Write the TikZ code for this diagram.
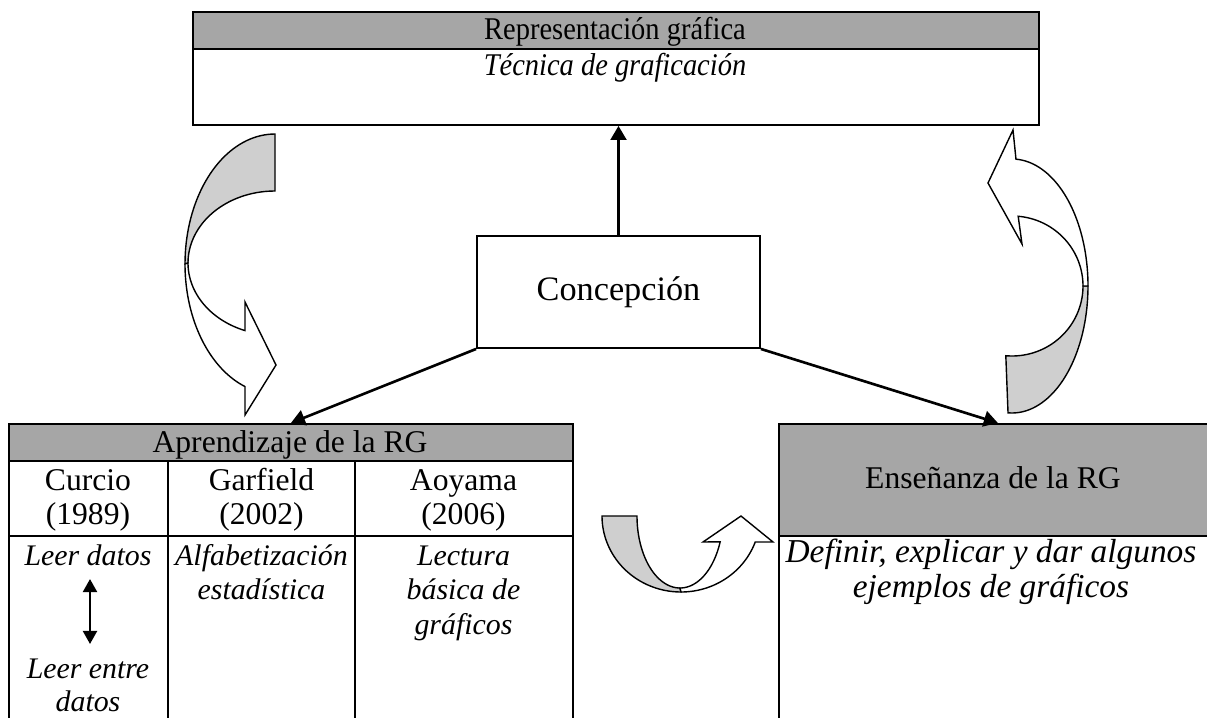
\documentclass[tikz,border=0pt]{standalone}
\usepackage{fontspec}
\usepackage{graphicx}
\setmainfont{Liberation Serif}
\usetikzlibrary{arrows.meta}

\tikzset{
  caja/.style={draw, line width=1.1pt, inner sep=0pt},
  banda/.style={fill=black!35},
  conector/.style={line width=1.5pt, -{Triangle[length=8pt,width=9pt]}},
  flecha/.style={draw, line width=0.8pt, line join=miter},
  texto/.style={inner sep=0pt, anchor=base, font=\fontsize{18}{21}\selectfont},
  cursiva/.style={texto, font=\fontsize{17}{20}\selectfont\itshape},
}
\newcommand{\estrecho}[1]{\scalebox{0.9}[1]{#1}}

\begin{document}
\begin{tikzpicture}[x=0.02cm, y=-0.02cm]
\path[use as bounding box, clip] (0,0) rectangle (1207,717);

% Representacion grafica
\fill[banda] (192,11) rectangle (1038,49);
\node[caja, minimum width=16.92cm, minimum height=2.26cm, anchor=north west] (repr) at (192,11) {};
\draw[line width=1.1pt] (192,49) -- (1038,49);
\node[texto] (reprA) at (615,39) {\estrecho{Representación gráfica}};
\node[texto, font=\fontsize{18}{21}\selectfont\itshape] (reprB) at (615,75) {\estrecho{Técnica de graficación}};

% Concepcion
\node[caja, minimum width=5.66cm, minimum height=2.24cm, font=\fontsize{19.5}{22}\selectfont] (concep) at (618.5,292) {Concepción};

% Aprendizaje de la RG
\fill[banda] (8,423) rectangle (572,461);
\node[caja, minimum width=11.28cm, minimum height=6cm, anchor=north west] (aprend) at (8,423) {};
\draw[line width=1.1pt] (8,461) -- (572,461) (8,536) -- (572,536)
  (168,461) -- (168,740) (355,461) -- (355,740);
\node[texto] (aprA) at (290,452) {Aprendizaje de la RG};
\node[texto] (curA) at (88,490) {Curcio};
\node[texto] (curB) at (88,524) {(1989)};
\node[texto] (garA) at (261.5,490) {Garfield};
\node[texto] (garB) at (261.5,524) {(2002)};
\node[texto] (aoyA) at (463.5,490) {Aoyama};
\node[texto] (aoyB) at (463.5,524) {(2006)};
\node[cursiva] (curC) at (88,565) {Leer datos};
\node[cursiva] (curD) at (88,678) {Leer entre};
\node[cursiva] (curE) at (88,711) {datos};
\node[cursiva] (garC) at (261.5,565) {Alfabetización};
\node[cursiva] (garD) at (261.5,599) {estadística};
\node[cursiva] (aoyC) at (463.5,565) {Lectura};
\node[cursiva] (aoyD) at (463.5,599) {básica de};
\node[cursiva] (aoyE) at (463.5,634) {gráficos};
\coordinate (dobleA) at (90,579);
\coordinate (dobleB) at (90,644);
\draw[line width=1.4pt, {Triangle[length=7.5pt,width=8pt]}-{Triangle[length=7.5pt,width=8pt]}] (dobleA) -- (dobleB);

% Ensenanza de la RG
\fill[banda] (778,423) rectangle (1216,536);
\node[caja, minimum width=8.76cm, minimum height=6cm, anchor=north west] (ensen) at (778,423) {};
\draw[line width=1.1pt] (778,536) -- (1216,536);
\node[texto] (ensA) at (993,488) {Enseñanza de la RG};
\node[texto, font=\fontsize{19}{22}\selectfont\itshape] (ensB) at (991,562) {Definir, explicar y dar algunos};
\node[texto, font=\fontsize{19}{22}\selectfont\itshape] (ensC) at (991,597) {ejemplos de gráficos};

% conectores
\draw[conector] (concep.north) -- (concep.north |- repr.south);
\draw[conector] (concep.south west) -- (aprend.north);
\draw[conector] (concep.south east) -- (ensen.north);

% flecha curva izquierda
\filldraw[flecha, fill=black!19] (275,191) -- (275,134)
  -- plot[domain=270:180, variable=\t, samples=40] ({275+90*cos(\t)},{264+130*sin(\t)})
  -- plot[domain=180:270, variable=\t, samples=40] ({275+87*cos(\t)},{263+72*sin(\t)}) -- cycle;
\filldraw[flecha, fill=white]
  plot[domain=180:109.5, variable=\t, samples=40] ({275+90*cos(\t)},{264+130*sin(\t)})
  -- (245,415) -- (276,365) -- (245,302) -- (245,330)
  -- plot[domain=110.2:180, variable=\t, samples=40] ({275+87*cos(\t)},{263+72*sin(\t)}) -- cycle;

% flecha curva derecha
\filldraw[flecha, fill=black!19]
  plot[domain=93:0, variable=\t, samples=40] ({1012+76*cos(\t)},{286+127*sin(\t)})
  -- plot[domain=0:95, variable=\t, samples=40] ({1012+71*cos(\t)},{286+70*sin(\t)}) -- cycle;
\filldraw[flecha, fill=white]
  plot[domain=360:273, variable=\t, samples=40] ({1012+76*cos(\t)},{286+127*sin(\t)})
  -- (1013,130) -- (988,183) -- (1022,244)
  -- plot[domain=275:360, variable=\t, samples=40] ({1012+71*cos(\t)},{286+70*sin(\t)}) -- cycle;

% flecha curva del medio
\filldraw[flecha, fill=black!19]
  plot[domain=180:90, variable=\t, samples=40] ({681+79*cos(\t)},{516+76*sin(\t)})
  -- plot[domain=90:180, variable=\t, samples=40] ({680+43*cos(\t)},{516+72*sin(\t)}) -- cycle;
\filldraw[flecha, fill=white]
  plot[domain=90:20, variable=\t, samples=40] ({681+79*cos(\t)},{516+76*sin(\t)})
  -- (773,542) -- (741,516) -- (703,542)
  -- plot[domain=21:90, variable=\t, samples=40] ({680+43*cos(\t)},{516+72*sin(\t)}) -- cycle;

\end{tikzpicture}
\end{document}
